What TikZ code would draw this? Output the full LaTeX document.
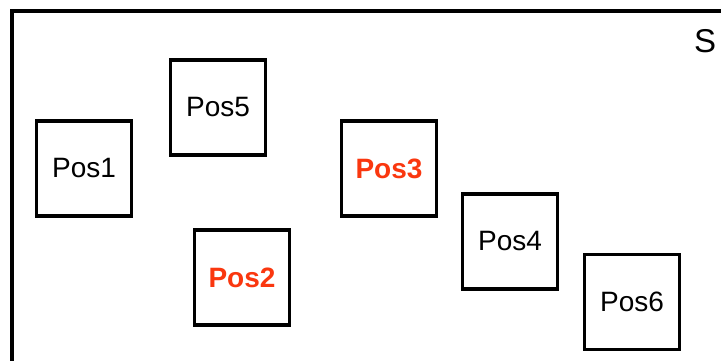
\documentclass[tikz,border=0pt]{standalone}
\usepackage{fontspec}
\setmainfont{Liberation Sans}
\definecolor{posred}{RGB}{250,55,15}
\begin{document}
\begin{tikzpicture}[x=1pt,y=1pt,
  posbox/.style={draw=black,line width=3.5pt,minimum width=95pt,minimum height=95pt,inner sep=0pt,font=\fontsize{28}{30}\selectfont},
  hot/.style={text=posred,font=\fontsize{28}{30}\selectfont\bfseries}]
\useasboundingbox (0,0) rectangle (721,361);
\clip (0,0) rectangle (721,361);
\fill[white] (0,0) rectangle (721,361);
\draw[line width=4pt] (12,-20) -- (12,349.5) -- (740,349.5);
\node[font=\fontsize{33}{35}\selectfont] (s) at (705,320) {S};
\node[posbox] (p1) at (84,192.5) {Pos1};
\node[posbox] (p5) at (218,253.5) {Pos5};
\node[posbox,hot] (p3) at (389,192.5) {Pos3};
\node[posbox] (p4) at (510,119.5) {Pos4};
\node[posbox,hot] (p2) at (242,83.5) {Pos2};
\node[posbox] (p6) at (632,59) {Pos6};
\end{tikzpicture}
\end{document}
